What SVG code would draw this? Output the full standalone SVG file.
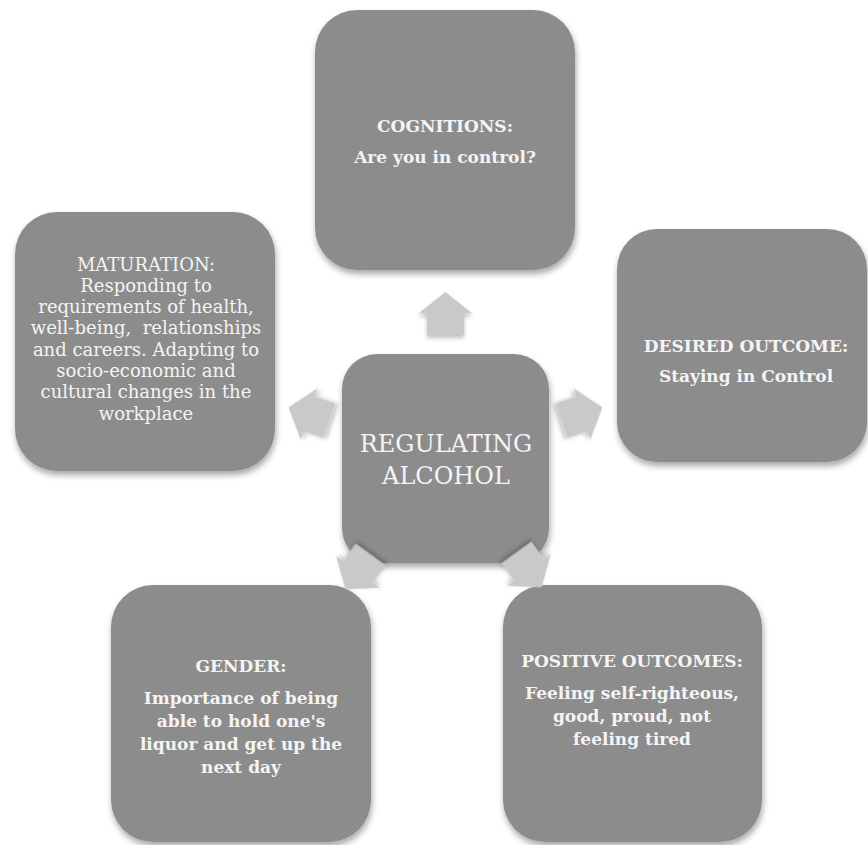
<svg xmlns="http://www.w3.org/2000/svg" width="868" height="845" viewBox="0 0 868 845">
<defs>
<filter id="sh" x="-10%" y="-10%" width="125%" height="125%">
<feDropShadow dx="1" dy="4" stdDeviation="3" flood-color="#000" flood-opacity="0.35"/>
</filter>
<filter id="ash" x="-30%" y="-30%" width="160%" height="160%">
<feDropShadow dx="0" dy="3" stdDeviation="2" flood-color="#000" flood-opacity="0.25"/>
</filter>
<path id="arr" d="M0,-21.5 L27,0 L18.5,0 L18.5,21.5 L-18.5,21.5 L-18.5,0 L-27,0 Z"/>
</defs>
<style>
.box{fill:#8c8c8c;filter:url(#sh)}
.arrow{fill:#c9c9c9;filter:url(#ash)}
text{font-family:"DejaVu Serif","Liberation Serif",serif;fill:#f4f4f4;text-anchor:middle}
.b{font-weight:bold;font-size:17px}
.r{font-size:18px}
.c{font-size:24px}
</style>
<rect width="868" height="845" fill="#ffffff"/>
<g id="cognitions">
<rect class="box" x="315" y="10" width="260" height="260" rx="42"/>
<text class="b" x="445" y="132">COGNITIONS:</text>
<text class="b" x="445" y="163">Are you in control?</text>
</g>
<g id="desired-outcome">
<rect class="box" x="617" y="229" width="250" height="233" rx="40"/>
<text class="b" x="746" y="352">DESIRED OUTCOME:</text>
<text class="b" x="746" y="382">Staying in Control</text>
</g>
<g id="positive-outcomes">
<rect class="box" x="503" y="585" width="259" height="257" rx="42"/>
<text class="b" x="632" y="667">POSITIVE OUTCOMES:</text>
<text class="b" x="632" y="699">Feeling self-righteous,</text>
<text class="b" x="632" y="722">good, proud, not</text>
<text class="b" x="632" y="745">feeling tired</text>
</g>
<g id="gender">
<rect class="box" x="111" y="585" width="260" height="257" rx="42"/>
<text class="b" x="241" y="672">GENDER:</text>
<text class="b" x="241" y="704">Importance of being</text>
<text class="b" x="241" y="727">able to hold one's</text>
<text class="b" x="241" y="750">liquor and get up the</text>
<text class="b" x="241" y="773">next day</text>
</g>
<g id="maturation">
<rect class="box" x="15" y="212" width="260" height="259" rx="42"/>
<text class="r" x="146" y="271">MATURATION:</text>
<text class="r" x="146" y="292">Responding to</text>
<text class="r" x="146" y="313">requirements of health,</text>
<text class="r" x="146" y="334" xml:space="preserve">well-being,  relationships</text>
<text class="r" x="146" y="356">and careers. Adapting to</text>
<text class="r" x="146" y="377">socio-economic and</text>
<text class="r" x="146" y="398">cultural changes in the</text>
<text class="r" x="146" y="420">workplace</text>
</g>
<g id="regulating-alcohol">
<rect class="box" x="342" y="354" width="207" height="209" rx="35"/>
<text class="c" x="446" y="452">REGULATING</text>
<text class="c" x="446" y="484">ALCOHOL</text>
</g>
<g id="connectors">
<use href="#arr" class="arrow" transform="translate(445.5,313.5)"/>
<use href="#arr" class="arrow" transform="translate(582,414) rotate(72)"/>
<use href="#arr" class="arrow" transform="translate(529,570) rotate(144)"/>
<use href="#arr" class="arrow" transform="translate(358,572) rotate(-144)"/>
<use href="#arr" class="arrow" transform="translate(309,414) rotate(-72)"/>
</g>
</svg>
